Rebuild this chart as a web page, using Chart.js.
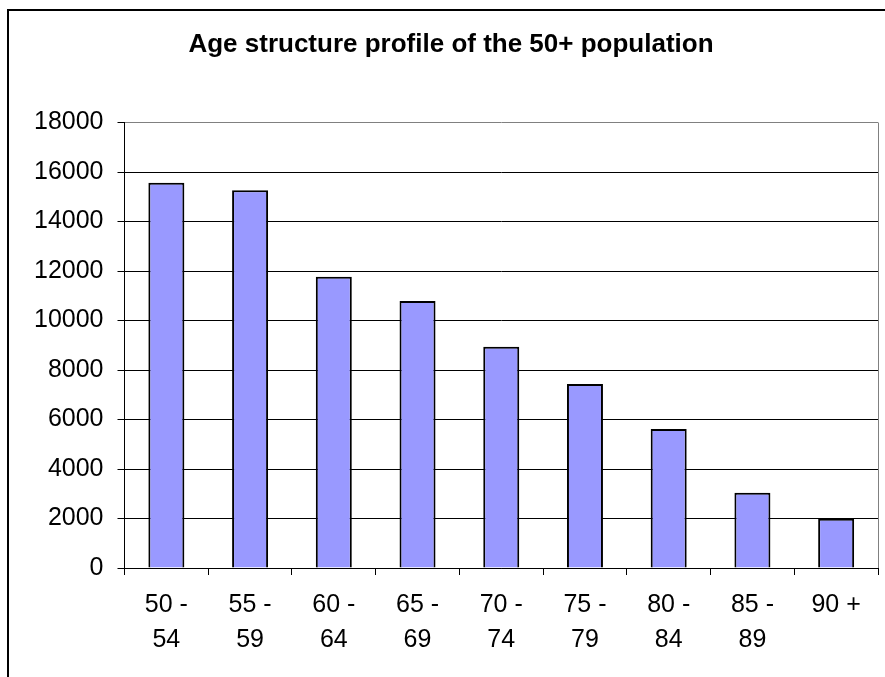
<!DOCTYPE html>
<html>
<head>
<meta charset="utf-8">
<title>Age structure profile of the 50+ population</title>
<script src="https://cdn.jsdelivr.net/npm/chart.js@4"></script>
<style>
	html, body { margin: 0; padding: 0; overflow: hidden; background: #fff; }
	#chart { position: absolute; left: 0; top: 0; }
	#frame {
		position: absolute; left: 7px; top: 9px;
		width: 1000px; height: 1000px;
		border: 2px solid #000; pointer-events: none;
	}
</style>
</head>
<body>
<canvas id="chart" width="885" height="677"></canvas>
<div id="frame"></div>
<script>
const chartTitle = "Age structure profile of the 50+ population";
const ageGroups = [
	["50 -", "54"], ["55 -", "59"], ["60 -", "64"], ["65 -", "69"], ["70 -", "74"],
	["75 -", "79"], ["80 -", "84"], ["85 -", "89"], ["90 +"],
];
const population = [15570, 15260, 11770, 10790, 8940, 7430, 5620, 3040, 1990];
const yMin = 0;
const yMax = 18000;
const yStep = 2000;

const fontFamily = "'Liberation Sans', Arial, sans-serif";

// grey right edge of the plot area, like the old spreadsheet chart
const plotEdge = {
	id: "plotEdge",
	afterDraw(chart) {
		const { ctx, chartArea } = chart;
		ctx.save();
		ctx.strokeStyle = "#808080";
		ctx.lineWidth = 1;
		ctx.beginPath();
		ctx.moveTo(Math.round(chartArea.right) + 0.5, chartArea.top);
		ctx.lineTo(Math.round(chartArea.right) + 0.5, chartArea.bottom);
		ctx.stroke();
		ctx.restore();
	},
};

new Chart(document.getElementById("chart"), {
	type: "bar",
	data: {
		labels: ageGroups,
		datasets: [
			{
				data: population,
				backgroundColor: "#9999ff",
				borderColor: "#000",
				borderWidth: 2,
				barPercentage: 0.43,
				categoryPercentage: 1,
			},
		],
	},
	options: {
		responsive: false,
		animation: false,
		layout: { padding: { left: 24, right: 7, top: 0, bottom: 0 } },
		plugins: {
			legend: { display: false },
			tooltip: { enabled: false },
			title: {
				display: true,
				text: chartTitle,
				color: "#000",
				font: { family: fontFamily, size: 26, weight: "bold" },
				padding: { top: 29.4, bottom: 61.9 },
			},
		},
		scales: {
			x: {
				afterFit: (scale) => { scale.height = 109; },
				border: { color: "#000", width: 1 },
				grid: { drawOnChartArea: false, color: "#000", tickLength: 7 },
				ticks: {
					color: "#000",
					padding: 13,
					maxRotation: 0,
					autoSkip: false,
					font: { family: fontFamily, size: 25, lineHeight: 1.38 },
				},
			},
			y: {
				min: yMin,
				max: yMax,
				afterFit: (scale) => { scale.width = 100.5; },
				border: { color: "#000", width: 1 },
				grid: {
					color: (ctx) => (ctx.tick && ctx.tick.value === yMax ? "#808080" : "#000"),
					tickColor: "#000",
					tickLength: 7,
				},
				ticks: {
					stepSize: yStep,
					color: "#000",
					padding: 14,
					font: { family: fontFamily, size: 25 },
					callback: (value) => String(value),
				},
			},
		},
	},
	plugins: [plotEdge],
});
</script>
</body>
</html>
